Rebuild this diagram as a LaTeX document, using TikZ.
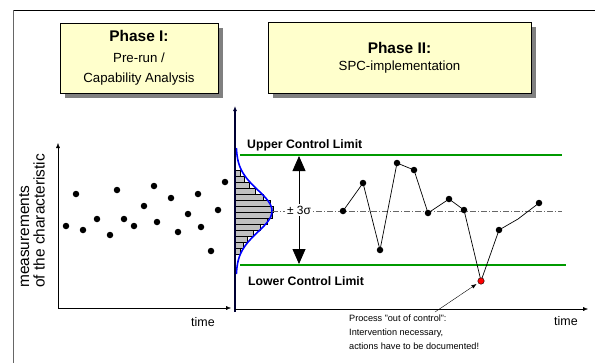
\documentclass[tikz,border=0pt]{standalone}
\usepackage{fontspec}
\setmainfont{Liberation Sans}
\usetikzlibrary{shapes, arrows.meta, positioning, calc, shadows}

\definecolor{phasefill}{HTML}{FFFFCC}
\definecolor{limitgreen}{HTML}{009A00}
\definecolor{axisnavy}{HTML}{000033}
\definecolor{barfill}{HTML}{C0C0C0}

\begin{document}
\begin{tikzpicture}[x=1bp, y=-1bp, >={Latex[length=5bp,width=4bp]},
		phasebox/.style={draw, fill=phasefill, align=center, inner sep=0pt,
			drop shadow={shadow xshift=5bp, shadow yshift=-5bp, fill=black!50, opacity=1}},
		dot/.style={circle, fill=black, inner sep=0pt, minimum size=6.5bp},
		limit/.style={limitgreen, line width=2bp},
		limitlabel/.style={anchor=west, inner sep=0pt, font=\fontsize{12.3}{14}\selectfont\bfseries},
		timelabel/.style={inner sep=0pt, font=\fontsize{12.5}{15}\selectfont},
	]
		\useasboundingbox (0,0) rectangle (595,363);
		\fill[white] (0,0) rectangle (595,363);

		\coordinate (frametl) at (13, 10);
		\coordinate (frametr) at (595, 10);
		\coordinate (framebl) at (13, 363);
		\coordinate (lorig)   at (58, 308);
		\coordinate (ltop)    at (58, 143);
		\coordinate (lend)    at (231, 308);
		\coordinate (corig)   at (235, 312);
		\coordinate (ctop)    at (235, 106);
		\coordinate (cbase)   at (235, 309);
		\coordinate (cend)    at (588, 309);
		\coordinate (uclA)    at (240, 155);
		\coordinate (uclB)    at (562, 155);
		\coordinate (lclA)    at (240, 265);
		\coordinate (lclB)    at (566, 265);
		\coordinate (meanA)   at (272, 211);
		\coordinate (meanB)   at (562, 211);
		\coordinate (sigtop)  at (299, 156);
		\coordinate (sigbot)  at (299, 264);
		\coordinate (notetip) at (435, 312);

		% frame
		\draw[black] (frametl) -- (frametr);
		\draw[black!60] (frametl) -- (framebl);

		% phase boxes
		\node[phasebox, minimum width=158bp, minimum height=70bp,
			font=\fontsize{13.3}{20.5}\selectfont] (PH1) at (139, 58)
			{{\fontsize{15.5}{20.5}\selectfont\bfseries Phase I:}\\Pre-run /\\Capability Analysis};
		\node[phasebox, minimum width=263bp, minimum height=71bp,
			font=\fontsize{13.3}{17.5}\selectfont] (PH2) at (399.5, 57.5)
			{{\fontsize{15.5}{17.5}\selectfont\bfseries Phase II:}\\SPC-implementation};

		% phase I: pre-run
		\draw[->, thin] (lorig) -- (ltop);
		\draw[->, thin] (lorig) -- (lend);
		\node[timelabel] (TIME1) at (203, 322) {time};
		\node[rotate=90, anchor=west, align=left, inner sep=0pt,
			font=\fontsize{15.5}{15.5}\selectfont] (YLAB) at (32, 288)
			{measurements\\of the characteristic};
		\foreach \px/\py [count=\i] in {66/226,76/194,83/230,97/219,110/235,117/190,
				124/219,134/226,144/206,154/186,157/222,171/198,178/232,
				188/214,198/194,201/227,211/251,218/210,225/182}
			\node[dot] (s\i) at (\px,\py) {};

		% histogram and distribution
		\foreach \w [count=\i] in {3,7,12,18,26,33,36,35,30,23,16,10,6,3}
			\draw[black, fill=barfill, line width=0.4bp] (235, {164+6*\i}) rectangle ++(2+\w, 6);
		\draw[blue, line width=1.6bp] plot[domain=148:274, samples=80]
			({236+36*exp(-((\x-211)^2)/882)}, \x);

		% phase II: control chart
		\draw[limit] (uclA) -- (uclB);
		\draw[limit] (lclA) -- (lclB);
		\node[limitlabel] (UCL) at (247, 145) {Upper Control Limit};
		\node[limitlabel] (LCL) at (248, 281) {Lower Control Limit};
		\draw[black!60, dash pattern=on 6bp off 2bp on 1bp off 2bp] (meanA) -- (meanB);
		\draw[{Triangle[width=13bp,length=15bp]}-{Triangle[width=13bp,length=15bp]}, line width=0.8bp]
			(sigtop) -- node[fill=white, inner sep=2pt, font=\fontsize{12}{14}\selectfont] (SIG) {± 3σ} (sigbot);

		\foreach \px/\py [count=\i] in {343/211,363/183,380/250,397/163,414/170,428/213,
				449/199,464/210,481/281,499/230,518/219,539/203}
			\coordinate (c\i) at (\px,\py);
		\draw[line width=0.7bp] (c1) \foreach \i in {2,...,12} { -- (c\i) };
		\foreach \i in {1,2,3,4,5,6,7,8,10,12}
			\node[dot] (p\i) at (c\i) {};
		\node[dot, fill=red, draw=black, line width=0.4bp] (OOC) at (c9) {};

		\draw[->, line width=2.5bp, axisnavy] (corig) -- (ctop);
		\draw[->, thin] (cbase) -- (cend);
		\node[timelabel] (TIME2) at (566, 321) {time};

		% out of control note
		\node[anchor=north west, align=left, inner sep=0pt,
			font=\fontsize{9.2}{14}\selectfont] (NOTE) at (349, 315)
			{Process "out of control":\\Intervention necessary,\\actions have to be documented!};
		\draw[->, thin, shorten >=2bp] (notetip) -- (OOC);
	\end{tikzpicture}
\end{document}
